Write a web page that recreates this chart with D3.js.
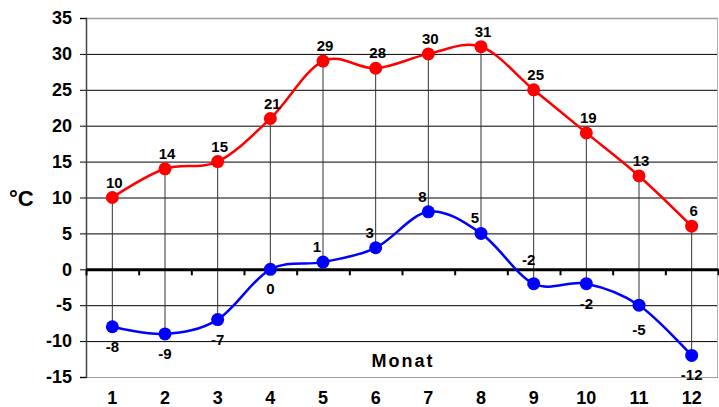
<!DOCTYPE html>
<html>
<head>
<meta charset="utf-8">
<script src="https://cdn.jsdelivr.net/npm/d3@7"></script>
<style>
  body { margin: 0; background: #fff; }
  text { font-family: "Liberation Sans", Arial, sans-serif; font-weight: bold; fill: #000; }
</style>
</head>
<body>
<svg id="chart" width="719" height="407"></svg>
<script>
"use strict";

// Monate und Temperaturen (Maximum rot, Minimum blau)
var months = [1, 2, 3, 4, 5, 6, 7, 8, 9, 10, 11, 12];
var maxTemp = [10, 14, 15, 21, 29, 28, 30, 31, 25, 19, 13, 6];
var minTemp = [-8, -9, -7, 0, 1, 3, 8, 5, -2, -2, -5, -12];
// where the label of the blue point sits
var minLabelSide = ["below", "below", "below", "below", "above", "above", "above", "above", "high", "below", "low", "below"];
var yTicks = [-15, -10, -5, 0, 5, 10, 15, 20, 25, 30, 35];

var margin = { top: 18, right: 1, bottom: 30, left: 86 };
var W = 719, H = 407;
var width = W - margin.left - margin.right;
var height = H - margin.top - margin.bottom;

var svg = d3.select("#chart");
var g = svg.append("g").attr("transform", "translate(" + margin.left + "," + margin.top + ")");

var x = d3.scaleBand().domain(months).range([0, width]).padding(0);
var xEdge = d3.scaleLinear().domain([0, months.length]).range([0, width]);
var y = d3.scaleLinear().domain([-15, 35]).range([height, 0]);

function cx(i) { return x(months[i]) + x.bandwidth() / 2; }
// plain hyphen like the original, not the unicode minus
function fmt(d) { return String(d); }

// horizontal gridlines
g.append("g")
  .call(d3.axisLeft(y).tickValues(yTicks).tickSize(-width).tickFormat(""))
  .call(function(s) {
    s.select(".domain").remove();
    s.selectAll(".tick line")
      .attr("stroke", function(d) { return (d === 35 || d === -15) ? "#a0a0a0" : "#000"; })
      .attr("stroke-width", function(d) { return d === 35 ? 1.5 : 1; });
  });

// right border
g.append("line")
  .attr("x1", width - 0.5).attr("x2", width - 0.5).attr("y1", 0).attr("y2", height)
  .attr("stroke", "#b0b0b0");

// y axis
g.append("g")
  .call(d3.axisLeft(y).tickValues(yTicks).tickFormat(fmt).tickSize(6).tickPadding(8))
  .call(function(s) {
    s.select(".domain").attr("stroke", "#444").attr("stroke-width", 1.5);
    s.selectAll(".tick line").attr("stroke", "#000");
    s.selectAll(".tick text").attr("font-size", "18px").attr("font-family", null);
  });

// drop lines between max and min
g.selectAll(".drop")
  .data(months)
  .enter()
  .append("line")
    .attr("class", "drop")
    .attr("x1", function(d, i) { return cx(i); })
    .attr("x2", function(d, i) { return cx(i); })
    .attr("y1", function(d, i) { return y(maxTemp[i]); })
    .attr("y2", function(d, i) { return y(minTemp[i]); })
    .attr("stroke", "#333")
    .attr("stroke-width", 1);

// zero axis with ticks between months
g.append("g")
  .attr("transform", "translate(0," + y(0) + ")")
  .call(d3.axisBottom(xEdge).tickValues(d3.range(months.length + 1)).tickFormat("").tickSizeInner(6).tickSizeOuter(0))
  .call(function(s) {
    s.select(".domain").attr("stroke", "#000").attr("stroke-width", 3);
    s.selectAll(".tick line").attr("stroke", "#000").attr("stroke-width", 2);
  });

// month labels
g.append("g")
  .attr("transform", "translate(0," + height + ")")
  .call(d3.axisBottom(x).tickSize(0).tickPadding(0))
  .call(function(s) {
    s.select(".domain").remove();
    s.selectAll(".tick text")
      .attr("font-size", "18px").attr("font-family", null)
      .attr("y", 27).attr("dy", null);
  });

// axis titles
g.append("text")
  .attr("x", width / 2 + 1)
  .attr("y", y(-13.6))
  .attr("text-anchor", "middle")
  .attr("font-size", "18px")
  .attr("letter-spacing", "2px")
  .text("Monat");

svg.append("text")
  .attr("x", 9)
  .attr("y", margin.top + y(10) + 8)
  .attr("font-size", "22px")
  .text("°C");

var line = d3.line().curve(d3.curveCardinal.tension(0));

function drawSeries(values, color) {
  g.append("path")
    .attr("d", line(values.map(function(v, i) { return [cx(i), y(v)]; })))
    .attr("fill", "none")
    .attr("stroke", color)
    .attr("stroke-width", 2.5);

  g.selectAll(null)
    .data(values)
    .enter()
    .append("circle")
      .attr("cx", function(d, i) { return cx(i); })
      .attr("cy", function(d) { return y(d); })
      .attr("r", 6.5)
      .attr("fill", color);
}

drawSeries(maxTemp, "#ff0000");
drawSeries(minTemp, "#0000ff");

// value labels
g.selectAll(".lbl-max")
  .data(maxTemp)
  .enter()
  .append("text")
    .attr("class", "lbl-max")
    .attr("x", function(d, i) { return cx(i) + 2; })
    .attr("y", function(d) { return y(d) - 10; })
    .attr("text-anchor", "middle")
    .attr("font-size", "15px")
    .text(fmt);

var sideDx = { above: -6, high: -5, below: 0, low: 0 };
var sideDy = { above: -10, high: -19, below: 25, low: 30 };

g.selectAll(".lbl-min")
  .data(minTemp)
  .enter()
  .append("text")
    .attr("class", "lbl-min")
    .attr("x", function(d, i) { return cx(i) + sideDx[minLabelSide[i]]; })
    .attr("y", function(d, i) { return y(d) + sideDy[minLabelSide[i]]; })
    .attr("text-anchor", "middle")
    .attr("font-size", "15px")
    .text(fmt);
</script>
</body>
</html>
